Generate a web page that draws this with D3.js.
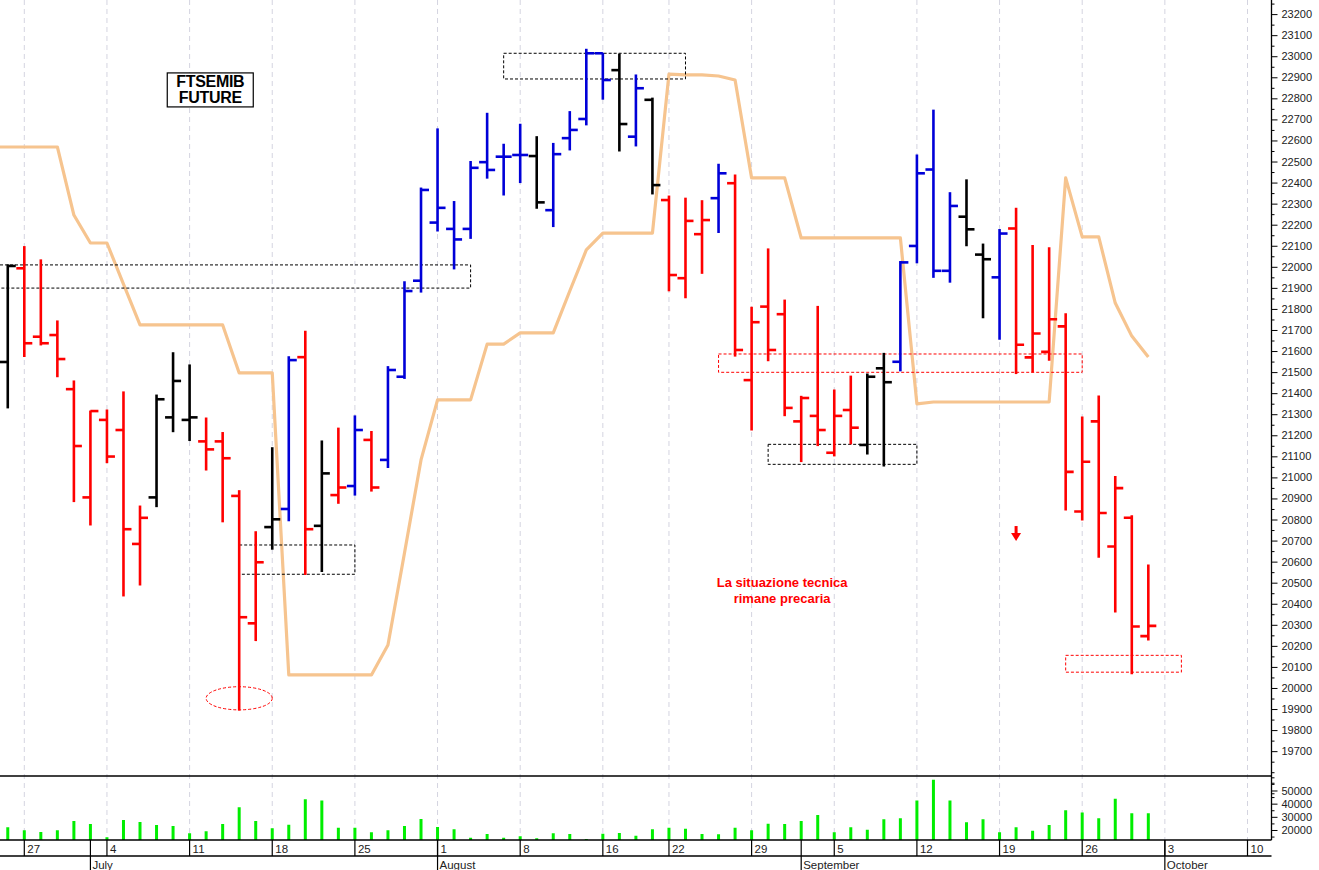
<!DOCTYPE html>
<html>
<head>
<meta charset="utf-8">
<script src="https://cdn.jsdelivr.net/npm/d3@7"></script>
<style>
  html, body { margin: 0; padding: 0; background: #fff; }
  svg { display: block; font-family: "Liberation Sans", Arial, sans-serif; }
</style>
</head>
<body>
<svg id="chart" width="1319" height="870"></svg>
<script>
// ---------------- DATA ----------------
const dates = [
  "2022-06-23","2022-06-24",
  "2022-06-27","2022-06-28","2022-06-29","2022-06-30","2022-07-01",
  "2022-07-04","2022-07-05","2022-07-06","2022-07-07","2022-07-08",
  "2022-07-11","2022-07-12","2022-07-13","2022-07-14","2022-07-15",
  "2022-07-18","2022-07-19","2022-07-20","2022-07-21","2022-07-22",
  "2022-07-25","2022-07-26","2022-07-27","2022-07-28","2022-07-29",
  "2022-08-01","2022-08-02","2022-08-03","2022-08-04","2022-08-05",
  "2022-08-08","2022-08-09","2022-08-10","2022-08-11","2022-08-12",
  "2022-08-16","2022-08-17","2022-08-18","2022-08-19",
  "2022-08-22","2022-08-23","2022-08-24","2022-08-25","2022-08-26",
  "2022-08-29","2022-08-30","2022-08-31","2022-09-01","2022-09-02",
  "2022-09-05","2022-09-06","2022-09-07","2022-09-08","2022-09-09",
  "2022-09-12","2022-09-13","2022-09-14","2022-09-15","2022-09-16",
  "2022-09-19","2022-09-20","2022-09-21","2022-09-22","2022-09-23",
  "2022-09-26","2022-09-27","2022-09-28","2022-09-29","2022-09-30"
];
const futureDates = ["2022-10-03","2022-10-04","2022-10-05","2022-10-06","2022-10-07",
                     "2022-10-10","2022-10-11","2022-10-12","2022-10-13","2022-10-14"];

const open = [
  21500,21548,
  21993,21668,21676,21419,20905,
  21273,21225,20684,20905,21285,
  21273,21171,21171,20912,20307,
  20764,20850,21571,20770,20916,
  20959,21178,21083,21478,21934,
  22210,22180,22180,22497,22523,
  22531,22526,22269,22611,22702,
  23014,22934,22618,22793,
  22317,21946,22155,22326,22397,
  21462,21811,21775,21266,21292,
  21117,21320,21154,21518,21549,
  22099,22462,21981,22238,22058,
  21950,22182,21570,21596,21717,
  20838,21266,20672,20808,20246
];
const high = [
  21700,22009,
  22096,22033,21743,21458,21315,
  21320,21406,20864,21391,21592,
  21534,21282,21213,20937,20742,
  21141,21573,21694,21173,21234,
  21292,21218,21526,21929,22374,
  22655,22310,22500,22729,22582,
  22677,22618,22586,22737,23033,
  23014,23010,22911,22801,
  22336,22326,22314,22487,22436,
  21808,22085,21842,21385,21812,
  21415,21481,21491,21589,22025,
  22531,22744,22352,22413,22108,
  22177,22278,22101,22091,21777,
  21287,21387,21004,20818,20584
];
const low = [
  21250,21330,
  21574,21629,21478,20885,20774,
  21070,20437,20489,20861,21217,
  21175,21035,20789,19895,20225,
  20659,20794,20539,20553,20877,
  20916,20935,21047,21470,21880,
  22170,21990,22135,22421,22341,
  22400,22278,22191,22555,22674,
  22796,22550,22574,22346,
  21886,21853,21969,22163,21576,
  21225,21554,21293,21075,21151,
  21102,21159,21111,21054,21506,
  22019,21950,21927,22100,21758,
  21656,21493,21501,21556,20845,
  20798,20621,20361,20067,20228
];
const close = [
  21443,22004,
  21637,21637,21562,21149,21315,
  21099,20754,20808,21371,21458,
  21285,21133,21091,20336,20597,
  20801,21557,20754,21019,20952,
  21225,20952,21510,21885,22365,
  22280,22130,22470,22460,22523,
  22531,22306,22535,22650,23014,
  22887,22678,22848,22388,
  21961,22218,22222,22444,21605,
  21737,21605,21330,21377,21225,
  21292,21236,21478,21452,22021,
  22444,21981,22289,22178,22036,
  22158,21630,21683,21751,21026,
  21074,20831,20949,20292,20295
];
// r = red (bearish), b = blue (bullish), k = black (neutral)
const trend = [
  "r","k",
  "r","r","r","r","r",
  "r","r","r","k","k",
  "k","r","r","r","r",
  "k","b","r","k","r",
  "b","r","b","b","b",
  "b","b","b","b","b",
  "b","k","b","b","b",
  "b","k","b","k",
  "r","r","r","b","r",
  "r","r","r","r","r",
  "r","r","k","k","b",
  "b","b","b","k","k",
  "b","r","r","r","r",
  "r","r","r","r","r"
];
const volume = [
  20000,22060,
  19770,18470,19770,26870,24580,
  14430,27630,26110,23820,23050,
  17480,19010,24580,37330,26870,
  21300,24050,43430,42370,21760,
  21760,18240,19770,23050,28400,
  22290,20530,14120,16950,14120,
  15190,13660,17480,16950,13130,
  17180,17710,15650,20530,
  21760,20990,16950,16720,21760,
  19770,24810,24580,26870,31450,
  18240,22060,20230,28170,28930,
  42370,58170,42370,25880,28170,
  18240,22060,19470,23820,35040,
  33210,28930,43660,32750,32750
];
const stopLine = [
  22569,22569,
  22569,22569,22569,22246,22113,
  22113,21918,21724,21724,21724,
  21724,21724,21724,21496,21496,
  21496,20062,20062,20062,20062,
  20062,20062,20204,20641,21083,
  21368,21368,21368,21633,21633,
  21686,21686,21686,21885,22080,
  22160,22160,22160,22160,
  22915,22911,22911,22906,22887,
  22422,22422,22422,22137,22137,
  22137,22137,22137,22137,22137,
  21349,21358,21358,21358,21358,
  21358,21358,21358,21358,22422,
  22142,22142,21828,21671,21572
];

const priceTicks = d3.range(19700, 23201, 100);
const volumeTicks = [20000, 30000, 40000, 50000];
const weekTickDates = ["2022-06-27","2022-07-04","2022-07-11","2022-07-18","2022-07-25",
  "2022-08-01","2022-08-08","2022-08-16","2022-08-22","2022-08-29","2022-09-05",
  "2022-09-12","2022-09-19","2022-09-26","2022-10-03","2022-10-10"];
const weekTickLabels = ["27","4","11","18","25","1","8","16","22","29","5","12","19","26","3","10"];
const monthStartDates = ["2022-07-01","2022-08-01","2022-09-01","2022-10-03"];
const monthLabels = ["July","August","September","October"];

// annotation boxes
const boxFrom  = [null,        "2022-08-05","2022-07-14","2022-08-25","2022-08-30","2022-09-23"];
const boxTo    = ["2022-08-03","2022-08-23","2022-07-25","2022-09-26","2022-09-12","2022-10-04"];
const boxTop   = [22009, 23014, 20679, 21586, 21157, 20155];
const boxBot   = [21899, 22892, 20540, 21499, 21062, 20075];
const boxColor = ["k","k","k","r","k","r"];

const ellipseDate = "2022-07-14", ellipsePrice = 19951;
const arrowDate = "2022-09-20", arrowTop = 20769, arrowBottom = 20698;
const titleLines = ["FTSEMIB", "FUTURE"];
const titleDate = "2022-07-12", titlePrice = 22840;
const noteLines = ["La situazione tecnica", "rimane precaria"];
const noteDate = "2022-08-30", notePrice = 20480;

// ---------------- LAYOUT ----------------
const W = 1319, H = 870;
const axisX = 1271.5;
const priceTop = 0, priceBottom = 776;
const volTop = 776, volBottom = 840;
const dateRowBottom = 856;

const calendar = dates.concat(futureDates);
const idx = d => calendar.indexOf(d);

const x = d3.scaleLinear().domain([idx("2022-06-27"), idx("2022-10-10")]).range([24.3, 1247.5]);
const y = d3.scaleLinear().domain([19582, 23267]).range([priceBottom, priceTop]);
const yv = d3.scaleLinear().domain([12400, 61000]).range([volBottom, volTop]);

const colors = { r: "#ff0000", b: "#0000d8", k: "#000000" };

const svg = d3.select("#chart");
svg.append("rect").attr("width", W).attr("height", H).attr("fill", "#fff");

const defs = svg.append("defs");
defs.append("clipPath").attr("id", "clipPrice").append("rect")
  .attr("x", 0).attr("y", 0).attr("width", axisX).attr("height", priceBottom);
defs.append("clipPath").attr("id", "clipVol").append("rect")
  .attr("x", 0).attr("y", volTop).attr("width", axisX).attr("height", volBottom - volTop);

// grid lines
svg.append("g").selectAll("line").data(weekTickDates).join("line")
  .attr("x1", d => x(idx(d))).attr("x2", d => x(idx(d)))
  .attr("y1", 0).attr("y2", volBottom)
  .attr("stroke", "#d4d4e0").attr("stroke-width", 1).attr("stroke-dasharray", "5,4");

// ----- price pane -----
const pg = svg.append("g").attr("clip-path", "url(#clipPrice)");

// stop line
const stopPts = stopLine.map((v, i) => [x(i), y(v)]);
pg.append("path").attr("d", d3.line()(stopPts))
  .attr("fill", "none").attr("stroke", "#f6c48f").attr("stroke-width", 3.2)
  .attr("stroke-linejoin", "round");

// annotation boxes
boxTo.forEach((t, k) => {
  const x0 = boxFrom[k] ? x(idx(boxFrom[k])) : -5, x1 = x(idx(t));
  pg.append("rect")
    .attr("x", x0).attr("y", y(boxTop[k]))
    .attr("width", x1 - x0).attr("height", y(boxBot[k]) - y(boxTop[k]))
    .attr("fill", "none").attr("stroke", colors[boxColor[k]]).attr("stroke-width", 1)
    .attr("stroke-dasharray", "3,2");
});

// ellipse
pg.append("ellipse")
  .attr("cx", x(idx(ellipseDate))).attr("cy", y(ellipsePrice))
  .attr("rx", x(2) - x(0)).attr("ry", y(ellipsePrice - 55) - y(ellipsePrice))
  .attr("fill", "none").attr("stroke", "#ff0000").attr("stroke-width", 1)
  .attr("stroke-dasharray", "3,2");

// OHLC bars
const tickLen = 8;
const bars = pg.append("g");
dates.forEach((d, i) => {
  const cx = x(i), c = colors[trend[i]];
  const g = bars.append("g").attr("stroke", c).attr("stroke-width", 2.6);
  g.append("line").attr("x1", cx).attr("x2", cx).attr("y1", y(high[i]) - 0.5).attr("y2", y(low[i]) + 0.5);
  g.append("line").attr("x1", cx - tickLen).attr("x2", cx).attr("y1", y(open[i])).attr("y2", y(open[i]));
  g.append("line").attr("x1", cx).attr("x2", cx + tickLen).attr("y1", y(close[i])).attr("y2", y(close[i]));
});

// arrow
const ax = x(idx(arrowDate));
pg.append("line").attr("x1", ax).attr("x2", ax)
  .attr("y1", y(arrowTop)).attr("y2", y(arrowTop) + 8)
  .attr("stroke", "#ff0000").attr("stroke-width", 3);
pg.append("path")
  .attr("d", `M${ax - 5},${y(arrowTop) + 7} L${ax + 5},${y(arrowTop) + 7} L${ax},${y(arrowBottom)} Z`)
  .attr("fill", "#ff0000");

// title box
const tx = x(idx(titleDate) + 0.25), ty = y(titlePrice);
svg.append("rect").attr("x", tx - 43).attr("y", ty - 17).attr("width", 86).attr("height", 34)
  .attr("fill", "#fff").attr("stroke", "#000").attr("stroke-width", 1.2);
titleLines.forEach((t, k) => {
  svg.append("text").attr("x", tx).attr("y", ty - 3 + k * 16.5)
    .attr("text-anchor", "middle").attr("font-size", 16).attr("font-weight", "bold")
    .attr("fill", "#000").attr("letter-spacing", "-0.3").text(t);
});

// note
const nx = x(idx(noteDate)) + 14;
noteLines.forEach((t, k) => {
  svg.append("text").attr("x", nx).attr("y", y(notePrice) + k * 16)
    .attr("text-anchor", "middle").attr("font-size", 13).attr("font-weight", "bold")
    .attr("fill", "#ff0000").text(t);
});

// ----- volume pane -----
const vg = svg.append("g").attr("clip-path", "url(#clipVol)");
vg.selectAll("line").data(volume).join("line")
  .attr("x1", (d, i) => x(i)).attr("x2", (d, i) => x(i))
  .attr("y1", yv(12400)).attr("y2", d => yv(d))
  .attr("stroke", "#00ee00").attr("stroke-width", 3);

// pane separators & frame
svg.append("line").attr("x1", 0).attr("x2", axisX).attr("y1", volTop).attr("y2", volTop)
  .attr("stroke", "#000").attr("stroke-width", 1.3);
svg.append("line").attr("x1", 0).attr("x2", axisX).attr("y1", volBottom).attr("y2", volBottom)
  .attr("stroke", "#000").attr("stroke-width", 1.3);
svg.append("line").attr("x1", 0).attr("x2", axisX).attr("y1", dateRowBottom).attr("y2", dateRowBottom)
  .attr("stroke", "#000").attr("stroke-width", 1.3);
svg.append("line").attr("x1", axisX).attr("x2", axisX).attr("y1", 0).attr("y2", volBottom)
  .attr("stroke", "#000").attr("stroke-width", 1.3);

// price axis
const pa = svg.append("g").attr("transform", `translate(${axisX},0)`)
  .call(d3.axisRight(y).tickValues(priceTicks).tickSize(6).tickPadding(4).tickFormat(d3.format("d")));
pa.select(".domain").remove();
pa.selectAll("text").attr("font-size", 11).attr("fill", "#222")
  .attr("font-family", "'Liberation Sans', Arial, sans-serif");
const pminor = svg.append("g").attr("transform", `translate(${axisX},0)`)
  .call(d3.axisRight(y).tickValues(d3.range(19550, 23300, 100).concat([19600, 19500])).tickSize(3).tickFormat(""));
pminor.select(".domain").remove();

// volume axis
const va = svg.append("g").attr("transform", `translate(${axisX},0)`)
  .call(d3.axisRight(yv).tickValues(volumeTicks).tickSize(6).tickPadding(4).tickFormat(d3.format("d")));
va.select(".domain").remove();
va.selectAll("text").attr("font-size", 11).attr("fill", "#222")
  .attr("font-family", "'Liberation Sans', Arial, sans-serif");
const vminor = svg.append("g").attr("transform", `translate(${axisX},0)`)
  .call(d3.axisRight(yv).tickValues([15000, 25000, 35000, 45000, 55000, 60000]).tickSize(3).tickFormat(""));
vminor.select(".domain").remove();

// date axis
const dg = svg.append("g");
weekTickDates.forEach((d, k) => {
  const px = x(idx(d));
  dg.append("line").attr("x1", px).attr("x2", px).attr("y1", volBottom).attr("y2", dateRowBottom)
    .attr("stroke", "#000").attr("stroke-width", 1.2);
  dg.append("text").attr("x", px + 3).attr("y", volBottom + 12.5)
    .attr("font-size", 11.5).attr("fill", "#222").text(weekTickLabels[k]);
});
monthStartDates.forEach((d, k) => {
  const px = x(idx(d));
  dg.append("line").attr("x1", px).attr("x2", px).attr("y1", volBottom).attr("y2", H)
    .attr("stroke", "#000").attr("stroke-width", 1.2);
  dg.append("text").attr("x", px + 2).attr("y", H - 1.5)
    .attr("font-size", 11.5).attr("fill", "#222").text(monthLabels[k]);
});
</script>
</body>
</html>
